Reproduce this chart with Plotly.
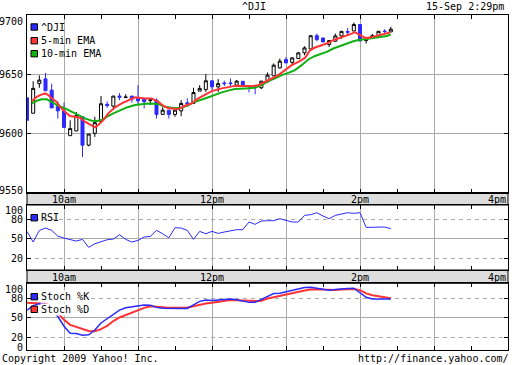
import plotly.graph_objects as go

FONT = "DejaVu Sans Mono"
BLUE = "#2a2aff"
RED = "#ff3333"
GREEN = "#10b010"
GRID = "#aaaaaa"

# ---- data (minutes after 9:30) ----
bar_minutes = [5 * i for i in range(60)]
opens = [9630, 9617, 9642, 9646, 9636.5, 9623, 9619, 9598, 9602, 9614,
         9590, 9600, 9610, 9624.5, 9623, 9631.5, 9630.2, 9631.5, 9629.5, 9629,
         9627.8, 9628, 9616, 9619.6, 9616, 9619, 9625.8, 9625.3, 9635.7, 9637,
         9644.4, 9639.3, 9642.6, 9642.6, 9640.7, 9644, 9640.4, 9639.5, 9638.5, 9643.5,
         9648.6, 9655.3, 9662.4, 9660, 9663.2, 9668, 9671.3, 9682.5, 9680.6, 9675,
         9677.8, 9682.3, 9686, 9686.5, 9692, 9678.4, 9680.6, 9682.5, 9686.4, 9685.7]
highs = [9630, 9644, 9649, 9651, 9642, 9627, 9626, 9611, 9618, 9614,
         9599.4, 9614, 9631.5, 9627, 9631.5, 9634, 9633, 9631.5, 9640.7, 9629,
         9629.5, 9629.5, 9622, 9619.6, 9619.6, 9628, 9629.5, 9638.5, 9640.7, 9650,
         9644.4, 9645.8, 9644.5, 9646.4, 9645, 9644, 9640.5, 9639.5, 9644.1, 9651.4,
         9659, 9663.2, 9664.6, 9663.8, 9668.8, 9673.6, 9682.5, 9684.3, 9680.6, 9678.4,
         9684.3, 9686.2, 9689, 9693.6, 9692, 9681, 9684, 9686.2, 9688, 9690]
lows = [9611, 9617, 9638.5, 9636, 9621.5, 9612.5, 9605, 9598, 9602, 9580,
        9589, 9597, 9610, 9621.5, 9620, 9628, 9630, 9626, 9624.5, 9621,
        9624, 9612.5, 9616, 9612.5, 9614, 9614.5, 9622.4, 9625.3, 9635.7, 9635,
        9636.5, 9635, 9640, 9639.3, 9640.7, 9640, 9634.5, 9633, 9637.4, 9643.5,
        9648.6, 9654.8, 9659.5, 9657.6, 9663.2, 9666, 9671.3, 9677.8, 9677.2, 9673,
        9677.8, 9680, 9682.3, 9686.5, 9678, 9675.9, 9680.6, 9681.4, 9683.5, 9685.7]
closes = [9611, 9638, 9645, 9636, 9621.5, 9619, 9605, 9604, 9615, 9590,
          9599.4, 9609, 9625, 9623.5, 9631.5, 9630.5, 9630.6, 9628.7, 9627.5, 9626.7,
          9628.2, 9616, 9619.6, 9616, 9619.6, 9625.3, 9625, 9634.5, 9638, 9644.4,
          9639.3, 9642, 9642, 9642, 9644.1, 9640, 9639.8, 9639, 9644.1, 9649.2,
          9657.6, 9661, 9659.5, 9663.8, 9668, 9672.2, 9682.5, 9679.2, 9677.2, 9678.4,
          9682.3, 9686.2, 9685.5, 9692, 9678, 9681, 9682.5, 9686.2, 9686, 9688]

ema5_t = [3.8, 7.9, 10.5, 14.6, 17.3, 20.0, 24.1, 26.8, 30.8, 34.9, 38.9, 43.0, 47.0, 51.1,
          55.1, 57.8, 61.9, 65.9, 71.4, 76.8, 83.5, 87.6, 95.7, 101.1, 106.5, 110.5, 114.6,
          122.7, 128.1, 133.5, 138.9, 144.3, 149.8, 157.9, 164.6, 168.6, 176.7, 182.2, 187.5,
          193.0, 198.4, 203.8, 209.2, 214.6, 220.0, 225.4, 229.5, 233.5, 238.9, 243.0, 248.3,
          253.8, 259.2, 263.3, 265.9, 270.0, 274.1, 278.1, 283.5, 288.9, 294.3]
ema5_v = [9627.2, 9630.9, 9632.3, 9633.7, 9632.3, 9629.5, 9626.6, 9622.4, 9618.2, 9614.6,
          9614.0, 9613.2, 9609.8, 9607.0, 9605.0, 9607.0, 9611.2, 9616.9, 9622.0, 9625.3,
          9628.2, 9630.4, 9629.5, 9629.5, 9626.6, 9623.3, 9621.1, 9620.5, 9623.3, 9625.3,
          9629.5, 9632.3, 9635.7, 9638.0, 9639.3, 9640.1, 9640.1, 9639.9, 9640.7, 9643.5,
          9646.4, 9649.2, 9653.4, 9657.6, 9660.4, 9663.7, 9670.2, 9672.5, 9674.4, 9675.9,
          9678.7, 9680.6, 9682.3, 9684.3, 9685.5, 9682.9, 9680.6, 9680.9, 9682.3, 9683.5,
          9685.2]
ema10_t = [3.8, 7.9, 11.9, 16.0, 20.0, 25.4, 30.8, 36.2, 41.6, 47.0, 52.5, 56.5, 60.6, 64.6,
           70.0, 76.8, 81.5, 87.6, 93.0, 98.4, 106.5, 111.9, 120.0, 125.4, 130.8, 136.2,
           144.3, 149.8, 157.9, 164.6, 168.6, 176.7, 184.8, 190.3, 195.6, 201.1, 206.5,
           211.9, 217.3, 222.7, 228.1, 233.5, 238.9, 243.0, 248.3, 253.8, 259.2, 264.6,
           267.8, 272.7, 280.8, 286.2, 291.7, 294.9]
ema10_v = [9625.3, 9627.5, 9628.7, 9628.7, 9626.6, 9623.3, 9621.1, 9618.2, 9615.4, 9612.6,
           9610.6, 9610.4, 9611.2, 9614.0, 9616.9, 9619.7, 9622.1, 9623.9, 9624.7, 9625.3,
           9624.7, 9622.4, 9621.1, 9621.6, 9623.9, 9626.6, 9629.5, 9631.7, 9634.6, 9636.5,
           9637.4, 9637.9, 9638.5, 9640.7, 9644.1, 9646.4, 9649.2, 9651.1, 9653.4, 9657.6,
           9662.4, 9665.4, 9667.5, 9668.8, 9671.7, 9673.9, 9675.9, 9677.8, 9678.7, 9679.5,
           9680.6, 9681.4, 9682.3, 9683.5]

rsi = [61.3, 44.9, 62.8, 66.4, 62.8, 54, 51, 48.5, 46.4, 49,
       36.7, 42.3, 45.9, 48.5, 49.5, 56.2, 49, 44.9, 47.4, 52.6,
       53.6, 62.8, 57.7, 51.5, 66.9, 66.4, 62.8, 49, 61.3, 57.7,
       61.3, 58.2, 60.3, 62.3, 63.9, 63.9, 75.7, 72.1, 77.2, 77.7,
       77.7, 80.8, 78.2, 75.7, 75.7, 85.9, 86.9, 90, 84.9, 80.8,
       85.9, 88.5, 90, 89, 90, 67.4, 67.4, 68.5, 68, 65.4]
stoch_k = [62, 69, 72, 71, 62, 52, 37, 26, 25.5, 23,
           23.5, 31, 42, 48.5, 56, 62, 65.5, 67, 68.5, 70,
           69.5, 66.2, 65, 64.6, 64.6, 64.6, 64.6, 70, 75.5, 77.7,
           77, 77.7, 78.2, 79.2, 78.2, 76.1, 74, 74, 78.7, 83.9,
           87.6, 88.1, 90.2, 93.3, 95.4, 97, 97.5, 95.9, 93.3, 92.8,
           93.8, 94.9, 95.4, 95.9, 88.1, 81.8, 79.2, 79.2, 79.2, 79.2]
stoch_d = [73.5, 73, 72.4, 72, 68, 57, 47, 39, 35.5, 32,
           29.5, 29.1, 32.5, 37.5, 45, 50.5, 54.5, 58.5, 62, 65.5,
           68, 67, 66, 65.7, 65.7, 65.7, 66, 68, 70.5, 72.2,
           73.5, 75, 76.5, 77.7, 77.2, 76.6, 76.3, 76.1, 76.6, 80,
           81.8, 84, 86.5, 88.3, 90.3, 92.5, 93.8, 94.4, 93.8, 93.3,
           93.3, 94, 94.7, 94.9, 93, 88, 85, 83.5, 81.5, 80.3]

hour_ticks = [30, 90, 150, 210, 270, 330]
half_ticks = [60, 120, 180, 240, 300, 360]
time_labels = ["10am", "12pm", "2pm", "4pm"]
time_label_pos = [30, 150, 270, 390]
main_ticks = [9700, 9650, 9600, 9550]
ind_ticks = [100, 80, 50, 20, 0]

# ---- figure geometry helpers (pixel -> paper) ----
L, R, T, B, W, H = 27, 4, 15, 15, 512, 365
PW, PH = W - L - R, H - T - B
def px(x):
    return (x - L) / PW
def py(y):
    return (H - B - y) / PH

fig = go.Figure()
fig.add_trace(go.Scatter(x=ema10_t, y=ema10_v, mode="lines", line=dict(color=GREEN, width=2),
                         xaxis="x", yaxis="y", showlegend=False))
fig.add_trace(go.Scatter(x=ema5_t, y=ema5_v, mode="lines", line=dict(color=RED, width=2),
                         xaxis="x", yaxis="y", showlegend=False))
fig.add_trace(go.Candlestick(x=bar_minutes, open=opens, high=highs, low=lows, close=closes,
                             xaxis="x", yaxis="y", showlegend=False, whiskerwidth=0,
                             increasing=dict(line=dict(color="black", width=1), fillcolor="white"),
                             decreasing=dict(line=dict(color=BLUE, width=1), fillcolor=BLUE)))
fig.add_trace(go.Scatter(x=bar_minutes, y=rsi, mode="lines", line=dict(color=BLUE, width=1),
                         xaxis="x2", yaxis="y2", showlegend=False))
fig.add_trace(go.Scatter(x=bar_minutes, y=stoch_d, mode="lines", line=dict(color=RED, width=2),
                         xaxis="x3", yaxis="y3", showlegend=False))
fig.add_trace(go.Scatter(x=bar_minutes, y=stoch_k, mode="lines", line=dict(color=BLUE, width=1.5),
                         xaxis="x3", yaxis="y3", showlegend=False))

dom_main = [py(192.5), 1.0]
dom_rsi = [py(270), py(205)]
dom_sto = [0.0, py(283.3)]

def xax(anchor):
    return dict(domain=[0, 1], range=[0, 390], anchor=anchor, tickmode="array",
                tickvals=hour_ticks, showgrid=True, gridcolor=GRID, gridwidth=1,
                ticks="inside", ticklen=4, tickcolor="black", showticklabels=False,
                showline=True, linecolor="black", linewidth=1, mirror="ticks",
                zeroline=False, fixedrange=True,
                minor=dict(tickmode="array", tickvals=half_ticks, ticks="inside",
                           ticklen=4, tickcolor="black", showgrid=False),
                rangeslider=dict(visible=False))

def yind(dom, rng):
    return dict(domain=dom, range=rng, anchor=None, tickmode="array", tickvals=[20, 80],
                showgrid=True, gridcolor=GRID, griddash="4px,4px", gridwidth=1,
                ticks="inside", ticklen=4, tickcolor="black", showticklabels=False,
                showline=True, linecolor="black", linewidth=1, mirror="ticks",
                zeroline=False, fixedrange=True,
                minor=dict(tickmode="array", tickvals=[50], ticks="inside", ticklen=4,
                           tickcolor="black", showgrid=True, gridcolor=GRID, griddash="solid"))

y2 = yind(dom_rsi, [2, 101.8]); y2["anchor"] = "x2"
y3 = yind(dom_sto, [0, 103.6]); y3["anchor"] = "x3"

fig.update_layout(
    width=W, height=H, margin=dict(l=L, r=R, t=T, b=B, pad=0),
    paper_bgcolor="white", plot_bgcolor="white",
    font=dict(family=FONT, size=10, color="black"),
    xaxis=xax("y"), xaxis2=xax("y2"), xaxis3=xax("y3"),
    yaxis=dict(domain=dom_main, range=[9550, 9700], anchor="x", tickmode="array",
               tickvals=[9600, 9650], showgrid=True, gridcolor=GRID, gridwidth=1,
               ticks="inside", ticklen=4, tickcolor="black", showticklabels=False,
               showline=True, linecolor="black", linewidth=1, mirror="ticks",
               zeroline=False, fixedrange=True),
    yaxis2=y2, yaxis3=y3,
    showlegend=False,
)

shapes = []
ann = []
# grey time bands
for top, bot in [(192.5, 205), (270, 283.3)]:
    shapes.append(dict(type="rect", xref="paper", yref="paper", x0=0, x1=1,
                       y0=py(bot), y1=py(top), fillcolor="#dddddd",
                       line=dict(color="black", width=1), layer="below"))
for band_y, xr in [(199, "x"), (277.3, "x2")]:
    for lab, pos in zip(time_labels, time_label_pos):
        ann.append(dict(text=lab, x=pos, xref=xr, y=py(band_y), yref="paper",
                        xanchor="right" if lab == "4pm" else "center", yanchor="middle",
                        showarrow=False))

# y tick labels
shift_main = {9700: -6, 9650: 0, 9600: 0, 9550: 2.5}
for v in main_ticks:
    ann.append(dict(text=str(v), x=px(24.5), xref="paper", y=v, yref="y", xanchor="right",
                    yanchor="middle", yshift=shift_main[v], showarrow=False))
shift_rsi = {100: -4, 80: 0, 50: 0, 20: 0, 0: 2.3}
shift_sto = {100: -3.5, 80: 0, 50: 0, 20: 0, 0: 2.7}
for v in ind_ticks:
    ann.append(dict(text=str(v), x=px(24.5), xref="paper", y=v, yref="y2", xanchor="right",
                    yanchor="middle", yshift=shift_rsi[v], showarrow=False))
    ann.append(dict(text=str(v), x=px(24.5), xref="paper", y=v, yref="y3", xanchor="right",
                    yanchor="middle", yshift=shift_sto[v], showarrow=False))

# legends
legend_items = [("^DJI", BLUE, 27, False), ("5-min EMA", RED, 40.7, False),
                ("10-min EMA", GREEN, 53.7, False), ("RSI", BLUE, 217.7, False),
                ("Stoch %K", BLUE, 296.7, True), ("Stoch %D", RED, 309.3, True)]
for lab, col, yc, bg in legend_items:
    shapes.append(dict(type="rect", xref="paper", yref="paper", x0=px(31), x1=px(37.5),
                       y0=py(yc + 3.2), y1=py(yc - 3.2), fillcolor=col,
                       line=dict(color="black", width=1), layer="above"))
    ann.append(dict(text=lab, x=px(39.5), xref="paper", y=py(yc), yref="paper",
                    xanchor="left", yanchor="middle", showarrow=False,
                    bgcolor="white" if bg else None, borderpad=0))

# header / footer
ann.append(dict(text="^DJI", x=px(253.5), xref="paper", y=py(7), yref="paper",
                xanchor="center", yanchor="middle", showarrow=False))
ann.append(dict(text="15-Sep 2:29pm", x=px(506), xref="paper", y=py(7), yref="paper",
                xanchor="right", yanchor="middle", showarrow=False))
ann.append(dict(text="Copyright 2009 Yahoo! Inc.", x=px(0), xref="paper", y=py(358.5),
                yref="paper", xanchor="left", yanchor="middle", showarrow=False))
ann.append(dict(text="http://finance.yahoo.com/", x=px(511), xref="paper", y=py(358.5),
                yref="paper", xanchor="right", yanchor="middle", showarrow=False))

fig.update_layout(shapes=shapes, annotations=ann)
fig.write_html("out.html", config={"displayModeBar": False, "staticPlot": True},
               post_script="document.body.style.margin='0';")
